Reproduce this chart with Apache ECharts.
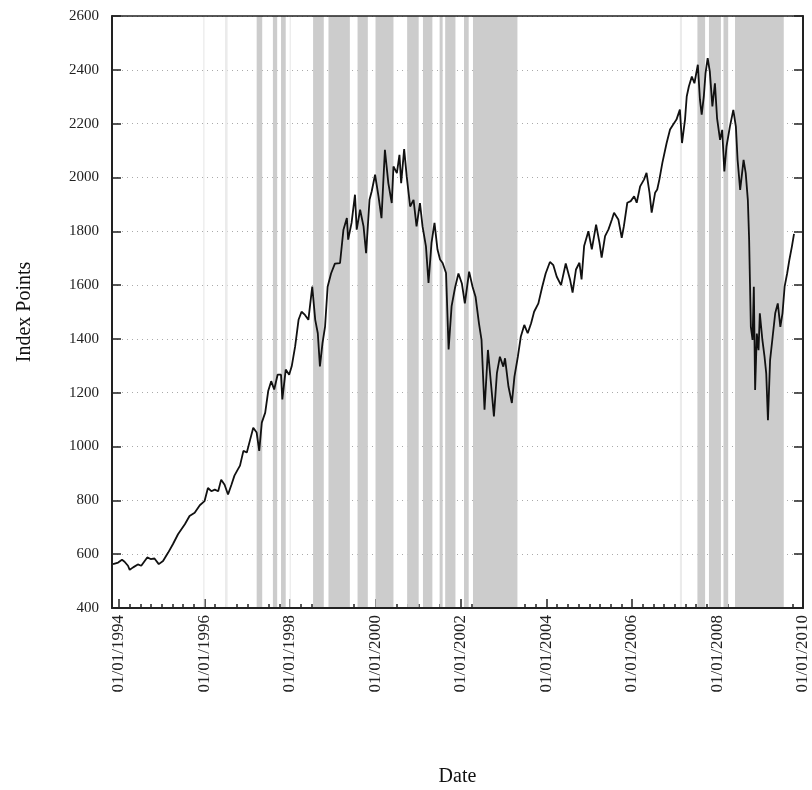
<!DOCTYPE html>
<html>
<head>
<meta charset="utf-8">
<title>Index Points</title>
<script src="https://cdn.jsdelivr.net/npm/echarts@6/dist/echarts.min.js"></script>
<style>
  html, body { margin: 0; padding: 0; background: #fff; }
  #chart { width: 812px; height: 790px; }
</style>
</head>
<body>
<div id="chart"></div>
<script>
// time as decimal years
const years = [
  1993.86, 1993.98, 1994.07, 1994.13, 1994.21, 1994.25, 1994.33, 1994.44, 1994.52, 1994.66,
  1994.74, 1994.83, 1994.93, 1995.03, 1995.15, 1995.26, 1995.38, 1995.54, 1995.65, 1995.77,
  1995.89, 1996.00, 1996.08, 1996.16, 1996.24, 1996.32, 1996.39, 1996.47, 1996.55, 1996.63,
  1996.70, 1996.78, 1996.83, 1996.91, 1996.99, 1997.06, 1997.14, 1997.22, 1997.28, 1997.34,
  1997.42, 1997.49, 1997.56, 1997.63, 1997.71, 1997.79, 1997.82, 1997.90, 1997.98, 1998.04,
  1998.12, 1998.20, 1998.27, 1998.35, 1998.43, 1998.52, 1998.59, 1998.65, 1998.70, 1998.76,
  1998.82, 1998.88, 1998.96, 1999.05, 1999.17, 1999.25, 1999.33, 1999.36, 1999.44, 1999.52,
  1999.56, 1999.64, 1999.72, 1999.78, 1999.86, 1999.91, 1999.99, 2000.07, 2000.14, 2000.22,
  2000.30, 2000.38, 2000.42, 2000.50, 2000.56, 2000.60, 2000.67, 2000.73, 2000.81, 2000.89,
  2000.96, 2001.04, 2001.10, 2001.18, 2001.24, 2001.31, 2001.38, 2001.45, 2001.51, 2001.57,
  2001.65, 2001.71, 2001.78, 2001.86, 2001.94, 2002.02, 2002.09, 2002.19, 2002.27, 2002.34,
  2002.42, 2002.48, 2002.55, 2002.63, 2002.70, 2002.77, 2002.84, 2002.91, 2002.99, 2003.03,
  2003.11, 2003.19, 2003.25, 2003.33, 2003.40, 2003.48, 2003.56, 2003.64, 2003.71, 2003.81,
  2003.90, 2003.98, 2004.08, 2004.16, 2004.24, 2004.34, 2004.45, 2004.55, 2004.61, 2004.69,
  2004.77, 2004.82, 2004.88, 2004.98, 2005.06, 2005.16, 2005.24, 2005.29, 2005.37, 2005.45,
  2005.53, 2005.58, 2005.68, 2005.76, 2005.81, 2005.89, 2005.97, 2006.05, 2006.11, 2006.19,
  2006.28, 2006.34, 2006.41, 2006.46, 2006.54, 2006.59, 2006.64, 2006.71, 2006.81, 2006.89,
  2006.96, 2007.04, 2007.12, 2007.17, 2007.24, 2007.28, 2007.33, 2007.40, 2007.46, 2007.54,
  2007.59, 2007.63, 2007.68, 2007.72, 2007.77, 2007.82, 2007.88, 2007.94, 2007.99, 2008.06,
  2008.11, 2008.16, 2008.21, 2008.29, 2008.37, 2008.43, 2008.47, 2008.53, 2008.61, 2008.66,
  2008.71, 2008.74, 2008.76, 2008.78, 2008.82, 2008.85, 2008.88, 2008.92, 2008.96, 2008.99,
  2009.05, 2009.10, 2009.14, 2009.18, 2009.23, 2009.29, 2009.35, 2009.41, 2009.47, 2009.52,
  2009.57, 2009.63, 2009.68, 2009.74, 2009.79
];

const points = [
  563, 569, 579, 572, 557, 542, 551, 562, 557, 588,
  582, 584, 563, 575, 606, 637, 674, 711, 742, 754,
  782, 797, 846, 834, 840, 834, 877, 858, 822, 858,
  892, 915, 929, 984, 978, 1021, 1070, 1052, 984, 1089,
  1126, 1206, 1243, 1212, 1267, 1267, 1175, 1286, 1267, 1298,
  1372, 1471, 1501, 1489, 1471, 1594, 1471, 1421, 1298, 1384,
  1446, 1594, 1643, 1680, 1682, 1806, 1849, 1769, 1831, 1936,
  1806, 1880, 1818, 1719, 1917, 1948, 2010, 1930, 1849, 2103,
  1979, 1905, 2041, 2016, 2084, 1979, 2105, 2004, 1892, 1917,
  1818, 1905, 1818, 1744, 1608, 1757, 1831, 1732, 1695, 1682,
  1645, 1361, 1522, 1590, 1643, 1606, 1532, 1650, 1594, 1557,
  1458, 1396, 1137, 1359, 1236, 1112, 1273, 1334, 1297, 1328,
  1223, 1162, 1260, 1334, 1409, 1452, 1421, 1458, 1501, 1532,
  1594, 1643, 1686, 1674, 1631, 1600, 1680, 1621, 1572, 1658,
  1683, 1621, 1745, 1800, 1733, 1825, 1757, 1702, 1782, 1807,
  1844, 1869, 1844, 1776, 1819, 1906, 1912, 1930, 1906, 1967,
  1992, 2017, 1943, 1869, 1943, 1955, 1992, 2054, 2128, 2178,
  2196, 2215, 2252, 2128, 2215, 2301, 2338, 2375, 2350, 2419,
  2288, 2233, 2301, 2388, 2443, 2394, 2264, 2350, 2220, 2140,
  2177, 2022, 2115, 2189, 2251, 2189, 2065, 1954, 2065, 2016,
  1916, 1768, 1606, 1445, 1396, 1594, 1210, 1420, 1358, 1495,
  1396, 1334, 1272, 1098, 1321, 1408, 1495, 1532, 1445, 1495,
  1594, 1644, 1693, 1743, 1790
];

// shaded regime periods [start, end] in decimal years
const bands = [
  [1997.22, 1997.35], [1997.60, 1997.70], [1997.79, 1997.90],
  [1998.54, 1998.79], [1998.90, 1999.40], [1999.58, 1999.82],
  [2000.00, 2000.42], [2000.74, 2001.01], [2001.11, 2001.33],
  [2001.50, 2001.57], [2001.63, 2001.87], [2002.07, 2002.18],
  [2002.28, 2003.32], [2007.53, 2007.71], [2007.80, 2008.08],
  [2008.14, 2008.25], [2008.41, 2009.55]
];

// very short periods that only show as pale lines
const faintBands = [
  [1995.97, 1996.0], [1996.48, 1996.54], [1997.99, 1998.02], [2007.12, 2007.17]
];

const yearTicks = [1994, 1996, 1998, 2000, 2002, 2004, 2006, 2008, 2010];

const quarterTicks = [];
for (let q = 1994; q < 2010; q += 0.25) quarterTicks.push(q);

const serif = '"Liberation Serif", "DejaVu Serif", serif';
const xMin = 1993.836;
const xMax = 2010;

const chart = echarts.init(document.getElementById('chart'));

const baseX = { type: 'value', min: xMin, max: xMax, gridIndex: 0 };
const baseY = { type: 'value', min: 400, max: 2600, interval: 200, gridIndex: 0 };
const frameLine = { show: true, lineStyle: { color: '#222', width: 2 } };

chart.setOption({
  animation: false,
  grid: { left: 112, right: 9, top: 16, bottom: 182, outerBoundsMode: 'none', containLabel: false },
  xAxis: [
    Object.assign({}, baseX, {
      position: 'bottom', z: 3,
      axisLine: frameLine,
      axisTick: { show: false },
      splitLine: { show: false },
      axisLabel: {
        customValues: yearTicks,
        rotate: 90, margin: 7,
        fontFamily: serif, fontSize: 17, color: '#222',
        formatter: (v) => '01/01/' + Math.round(v)
      },
      name: 'Date', nameLocation: 'middle', nameGap: 159,
      nameTextStyle: { fontFamily: serif, fontSize: 20, color: '#111' }
    }),
    Object.assign({}, baseX, {
      position: 'bottom',
      axisLine: { show: false },
      axisTick: { show: true, inside: true, length: 9, customValues: yearTicks,
        lineStyle: { color: '#222', width: 1.5 } },
      axisLabel: { show: false },
      splitLine: { show: false }
    }),
    Object.assign({}, baseX, {
      position: 'bottom',
      axisLine: { show: false },
      axisTick: { show: true, inside: true, length: 4, customValues: quarterTicks,
        lineStyle: { color: '#222', width: 1.5 } },
      axisLabel: { show: false },
      splitLine: { show: false }
    }),
    Object.assign({}, baseX, {
      position: 'top', z: 3,
      axisLine: { show: true, lineStyle: { color: '#222', width: 1.5 } },
      axisTick: { show: false },
      axisLabel: { show: false },
      splitLine: { show: false }
    })
  ],
  yAxis: [
    Object.assign({}, baseY, {
      position: 'left', z: 3,
      axisLine: frameLine,
      axisTick: { show: false },
      splitLine: { show: false },
      axisLabel: { margin: 13, fontFamily: serif, fontSize: 15, color: '#222',
        formatter: (v) => String(v) },
      name: 'Index Points', nameLocation: 'middle', nameGap: 77, nameRotate: 90,
      nameTextStyle: { fontFamily: serif, fontSize: 20, color: '#111' }
    }),
    Object.assign({}, baseY, {
      position: 'left',
      axisLine: { show: false },
      axisTick: { show: true, inside: true, length: 9, lineStyle: { color: '#222', width: 1.5 } },
      axisLabel: { show: false },
      splitLine: { show: true, lineStyle: { color: '#aaa', type: [1, 4], width: 1 } }
    }),
    Object.assign({}, baseY, {
      position: 'right',
      axisLine: { show: false },
      axisTick: { show: true, inside: true, length: 9, lineStyle: { color: '#222', width: 1.5 } },
      axisLabel: { show: false },
      splitLine: { show: false }
    }),
    Object.assign({}, baseY, {
      position: 'right', z: 3,
      axisLine: frameLine,
      axisTick: { show: false },
      axisLabel: { show: false },
      splitLine: { show: false }
    })
  ],
  series: [
    {
      type: 'line', data: [], z: 1, silent: true,
      markArea: {
        silent: true,
        itemStyle: { color: '#ebebeb' },
        data: faintBands.map(b => [{ xAxis: b[0] }, { xAxis: b[1] }])
      }
    },
    {
      type: 'line', data: [], z: 1, silent: true,
      markArea: {
        silent: true,
        itemStyle: { color: '#cccccc' },
        data: bands.map(b => [{ xAxis: b[0] }, { xAxis: b[1] }])
      }
    },
    {
      type: 'line', z: 2,
      data: years.map((y, i) => [y, points[i]]),
      showSymbol: false,
      lineStyle: { color: '#111', width: 1.8 }
    }
  ]
});
</script>
</body>
</html>
